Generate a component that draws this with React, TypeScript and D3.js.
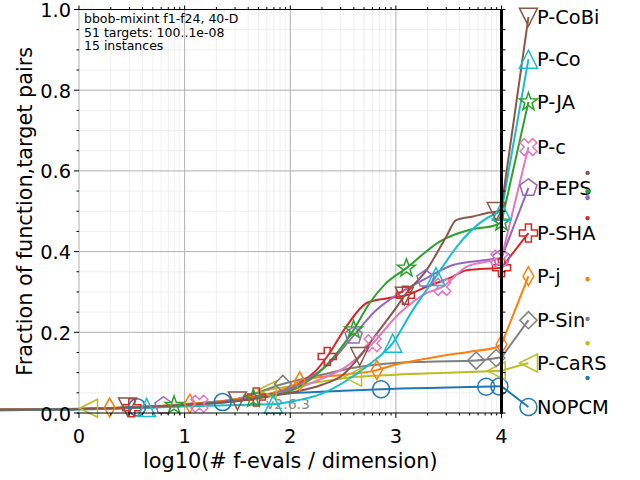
import React from 'react';
import * as d3 from 'd3';

type Pt = [number, number];

// ECDF curves: [log10(evals/dim), fraction]
const pCoBi: Pt[] = [[-0.75, 0.008], [0, 0.01], [1, 0.02], [1.5, 0.03], [2, 0.05], [2.3, 0.07], [2.5, 0.095], [2.657, 0.14], [2.8, 0.19], [3.0, 0.26], [3.1, 0.297], [3.29, 0.354], [3.477, 0.437], [3.57, 0.478], [3.73, 0.487], [3.855, 0.495], [3.965, 0.5], [4, 0.51]];
const pCo: Pt[] = [[-0.75, 0.007], [0, 0.009], [1, 0.016], [1.5, 0.02], [1.85, 0.022], [2, 0.028], [2.3, 0.048], [2.5, 0.075], [2.72, 0.115], [2.97, 0.173], [3.16, 0.255], [3.38, 0.338], [3.6, 0.42], [3.79, 0.47], [3.95, 0.495], [4, 0.5]];
const pJA: Pt[] = [[-0.75, 0.008], [0, 0.01], [1, 0.02], [1.5, 0.03], [1.75, 0.04], [2, 0.055], [2.2, 0.085], [2.4, 0.135], [2.6, 0.206], [2.75, 0.272], [2.9, 0.32], [3.1, 0.359], [3.414, 0.425], [3.7, 0.454], [3.95, 0.466], [4, 0.473]];
const pC: Pt[] = [[-0.75, 0.008], [0, 0.01], [1, 0.02], [1.5, 0.03], [2, 0.055], [2.3, 0.085], [2.53, 0.115], [2.78, 0.173], [3.035, 0.247], [3.29, 0.297], [3.445, 0.313], [3.67, 0.363], [3.855, 0.375], [4, 0.384]];
const pEPS: Pt[] = [[-0.75, 0.008], [0, 0.01], [1, 0.02], [1.5, 0.032], [2, 0.06], [2.2, 0.09], [2.37, 0.123], [2.594, 0.19], [2.815, 0.255], [3.035, 0.297], [3.29, 0.334], [3.54, 0.367], [3.855, 0.379], [4, 0.384]];
const pSHA: Pt[] = [[-0.75, 0.008], [0, 0.01], [0.5, 0.013], [1, 0.02], [1.5, 0.032], [1.8, 0.045], [2, 0.06], [2.15, 0.085], [2.25, 0.107], [2.35, 0.14], [2.53, 0.214], [2.72, 0.272], [2.91, 0.284], [3.1, 0.292], [3.29, 0.313], [3.54, 0.338], [3.67, 0.354], [3.95, 0.359], [4, 0.36]];
const pJ: Pt[] = [[-0.75, 0.008], [0, 0.01], [1, 0.022], [1.5, 0.035], [2, 0.065], [2.1, 0.08], [2.5, 0.095], [2.8, 0.105], [3.0, 0.12], [3.4, 0.14], [3.7, 0.152], [3.95, 0.163], [4, 0.17]];
const pSin: Pt[] = [[-0.75, 0.008], [0, 0.01], [1, 0.022], [1.5, 0.035], [1.93, 0.072], [2.05, 0.08], [2.3, 0.095], [2.6, 0.112], [2.9, 0.122], [3.3, 0.127], [3.76, 0.13], [4, 0.138]];
const pCaRS: Pt[] = [[-0.75, 0.009], [0, 0.011], [0.5, 0.015], [1, 0.022], [1.5, 0.035], [1.78, 0.057], [2, 0.066], [2.3, 0.078], [2.59, 0.089], [3, 0.095], [3.5, 0.1], [4, 0.105]];
const noPCM: Pt[] = [[-0.75, 0.007], [0, 0.009], [1, 0.018], [1.36, 0.027], [1.7, 0.04], [1.9, 0.047], [2, 0.049], [2.5, 0.055], [2.86, 0.059], [3.5, 0.063], [4, 0.066]];

// where markers sit along each curve (log10 x)
const marksCoBi = [0.46, 1.5, 2.657, 3.08, 3.95];
const marksCo = [0.64, 1.84, 2.97, 3.38, 4.0];
const marksJA = [0.9, 1.65, 2.6, 3.1, 4.0];
const marksC = [1.14, 2.78, 3.44, 3.98];
const marksEPS = [0.8, 2.6, 3.28, 4.0];
const marksSHA = [0.5, 1.68, 2.35, 3.09, 4.0];
const marksJ = [0.29, 1.05, 2.09, 2.82, 4.0];
const marksSin = [1.93, 3.76, 3.95];
const marksCaRS = [0.09, 1.78, 2.59, 3.95];
const marksNOPCM = [0.55, 1.36, 2.86, 3.855, 3.98];

const names = ['P-CoBi', 'P-Co', 'P-JA', 'P-c', 'P-EPS', 'P-SHA', 'P-j', 'P-Sin', 'P-CaRS', 'NOPCM'];
const colors = ['#8c564b', '#17becf', '#2ca02c', '#e377c2', '#9467bd', '#d62728', '#ff7f0e', '#7f7f7f', '#bcbd22', '#1f77b4'];
const shapes = ['triDown', 'triUp', 'star', 'xFilled', 'pentagon', 'plusFilled', 'thinDiamond', 'diamond', 'triLeft', 'circle'];
const legendValues = [0.981, 0.877, 0.771, 0.659, 0.558, 0.446, 0.339, 0.23, 0.124, 0.015];
const finalDots = [0.595, 0.55, 0.549, 0.536, 0.533, 0.483, 0.332, 0.233, 0.173, 0.087];
const dotOrder = [0, 1, 2, 3, 4, 5, 6, 7, 8, 9];

const xTicks = [0, 1, 2, 3, 4];
const xTickLabels = ['0', '1', '2', '3', '4'];
const yTicks = [0, 0.2, 0.4, 0.6, 0.8, 1.0];
const yTickLabels = ['0.0', '0.2', '0.4', '0.6', '0.8', '1.0'];
const infoLines = ['bbob-mixint f1-f24, 40-D', '51 targets: 100..1e-08', '15 instances'];

const curves = [pCoBi, pCo, pJA, pC, pEPS, pSHA, pJ, pSin, pCaRS, noPCM];
const marks = [marksCoBi, marksCo, marksJA, marksC, marksEPS, marksSHA, marksJ, marksSin, marksCaRS, marksNOPCM];

const legendLx = 4.255;
const dotLx = 4.815;

const x = d3.scaleLinear().domain([0, 4]).range([79, 501.5]);
const y = d3.scaleLinear().domain([0, 1]).range([413, 9.5]);

const minorX: number[] = [];
for (let d = 0; d < 4; d++) for (let k = 2; k < 10; k++) minorX.push(d + Math.log10(k));
const minorY = d3.range(0.05, 1, 0.05).filter((v) => Math.abs(v * 5 - Math.round(v * 5)) > 1e-6);
const allY = d3.range(0, 1.0001, 0.05);

function poly(pts: Pt[]) {
  return 'M' + pts.map((p) => p.join(',')).join('L') + 'Z';
}

function markerPath(shape: string): string {
  const r = 9;
  switch (shape) {
    case 'triUp':
      return poly([[0, -r], [-r, r], [r, r]]);
    case 'triDown':
      return poly([[0, r], [-r, -r], [r, -r]]);
    case 'triLeft':
      return poly([[-r, 0], [r, -r], [r, r]]);
    case 'diamond':
      return poly([[0, -r * 0.95], [r * 0.95, 0], [0, r * 0.95], [-r * 0.95, 0]]);
    case 'thinDiamond':
      return poly([[0, -r * 1.05], [r * 0.6, 0], [0, r * 1.05], [-r * 0.6, 0]]);
    case 'pentagon': {
      const pts: Pt[] = d3.range(5).map((i) => {
        const a = -Math.PI / 2 + (i * 2 * Math.PI) / 5;
        return [r * Math.cos(a), r * Math.sin(a)];
      });
      return poly(pts);
    }
    case 'star': {
      const pts: Pt[] = d3.range(10).map((i) => {
        const a = -Math.PI / 2 + (i * Math.PI) / 5;
        const rr = i % 2 === 0 ? r * 1.05 : r * 0.42;
        return [rr * Math.cos(a), rr * Math.sin(a)];
      });
      return poly(pts);
    }
    case 'plusFilled':
    case 'xFilled': {
      const t = r / 3;
      let pts: Pt[] = [[-t, -r], [t, -r], [t, -t], [r, -t], [r, t], [t, t], [t, r], [-t, r], [-t, t], [-r, t], [-r, -t], [-t, -t]];
      if (shape === 'xFilled') {
        const c = Math.SQRT1_2;
        pts = pts.map(([a, b]) => [a * c - b * c, a * c + b * c] as Pt);
      }
      return poly(pts);
    }
    default:
      return '';
  }
}

const Marker: React.FC<{ shape: string; cx: number; cy: number; color: string }> = ({ shape, cx, cy, color }) =>
  shape === 'circle' ? (
    <circle cx={cx} cy={cy} r={8.5} fill="none" stroke={color} strokeWidth={1.5} />
  ) : (
    <path d={markerPath(shape)} transform={`translate(${cx},${cy})`} fill="none" stroke={color} strokeWidth={1.5} strokeLinejoin="miter" />
  );

const line = d3
  .line<Pt>()
  .x((d) => x(d[0]))
  .y((d) => y(d[1]))
  .curve(d3.curveMonotoneX);

const font = 'DejaVu Sans, sans-serif';

const App: React.FC = () => {
  const drawOrder = [9, 8, 7, 6, 5, 4, 3, 2, 1, 0];
  return (
    <div style={{ position: 'absolute', left: 0, top: 0 }}>
      <svg width={640} height={480} style={{ display: 'block', fontFamily: font }}>
        <rect width={640} height={480} fill="#fff" />
        {/* minor grid */}
        <g stroke="#ebebeb" strokeWidth={0.8}>
          {minorX.map((v, i) => (
            <line key={'mx' + i} x1={x(v)} x2={x(v)} y1={y(0)} y2={y(1)} />
          ))}
          {minorY.map((v, i) => (
            <line key={'my' + i} x1={x(0)} x2={x(4)} y1={y(v)} y2={y(v)} />
          ))}
        </g>
        {/* major grid */}
        <g stroke="#b0b0b0" strokeWidth={1}>
          {xTicks.map((v) => (
            <line key={'gx' + v} x1={x(v)} x2={x(v)} y1={y(0)} y2={y(1)} />
          ))}
          {yTicks.slice(1, -1).map((v) => (
            <line key={'gy' + v} x1={x(0)} x2={x(4)} y1={y(v)} y2={y(v)} />
          ))}
        </g>
        {/* info text */}
        <g fontSize={12.5} fill="#000">
          {infoLines.map((t, i) => (
            <text key={t} x={84} y={23 + i * 13.5}>
              {t}
            </text>
          ))}
        </g>
        <text x={266} y={409} fontSize={14} fill="#8a8a8a">
          v2.6.3
        </text>
        {/* curves */}
        {drawOrder.map((i) => {
          const data = curves[i];
          const last = data[data.length - 1];
          return (
            <g key={names[i]} stroke={colors[i]} fill="none" strokeWidth={2}>
              <path d={line(data) || ''} strokeLinejoin="round" />
              <line x1={x(last[0])} y1={y(last[1])} x2={x(legendLx)} y2={y(legendValues[i])} />
            </g>
          );
        })}
        {/* markers */}
        {drawOrder.map((i) => {
          const data = curves[i];
          const interp = d3
            .scaleLinear()
            .domain(data.map((d) => d[0]))
            .range(data.map((d) => d[1]));
          return (
            <g key={'m' + names[i]}>
              {marks[i].map((m, j) => (
                <Marker key={j} shape={shapes[i]} cx={x(m)} cy={y(interp(m))} color={colors[i]} />
              ))}
              <Marker shape={shapes[i]} cx={x(legendLx)} cy={y(legendValues[i])} color={colors[i]} />
            </g>
          );
        })}
        {/* spines */}
        <line x1={77} x2={501.5} y1={y(0)} y2={y(0)} stroke="#000" strokeWidth={1.2} />
        <line x1={77} x2={501.5} y1={y(1)} y2={y(1)} stroke="#000" strokeWidth={1.2} />
        <line x1={x(4)} x2={x(4)} y1={y(1)} y2={y(0) + 1} stroke="#000" strokeWidth={3} />
        {/* ticks */}
        <g stroke="#000" strokeWidth={1}>
          {xTicks.map((v) => (
            <g key={'tx' + v}>
              <line x1={x(v)} x2={x(v)} y1={y(0)} y2={y(0) + 5} />
              <line x1={x(v)} x2={x(v)} y1={y(1)} y2={y(1) - 4} />
            </g>
          ))}
          {minorX.map((v, i) => (
            <g key={'tmx' + i}>
              <line x1={x(v)} x2={x(v)} y1={y(0)} y2={y(0) + 2.5} />
              <line x1={x(v)} x2={x(v)} y1={y(1)} y2={y(1) - 2.5} />
            </g>
          ))}
          {yTicks.map((v) => (
            <line key={'ty' + v} x1={x(0) - 5} x2={x(0)} y1={y(v)} y2={y(v)} />
          ))}
          {minorY.map((v, i) => (
            <line key={'tmy' + i} x1={x(0) - 2.5} x2={x(0)} y1={y(v)} y2={y(v)} />
          ))}
          {allY.map((v, i) => (
            <line key={'try' + i} x1={x(4)} x2={x(4) + 4} y1={y(v)} y2={y(v)} />
          ))}
        </g>
        {/* tick labels */}
        <g fontSize={19.4} fill="#000">
          {xTicks.map((v, i) => (
            <text key={'lx' + v} x={x(v)} y={443} textAnchor="middle">
              {xTickLabels[i]}
            </text>
          ))}
          {yTicks.map((v, i) => (
            <text key={'ly' + v} x={71} y={y(v) + 7.5} textAnchor="end">
              {yTickLabels[i]}
            </text>
          ))}
        </g>
        <text x={(x(0) + x(4)) / 2} y={468} fontSize={20.8} textAnchor="middle">
          log10(# f-evals / dimension)
        </text>
        <text
          transform={`translate(32,${(y(0) + y(1)) / 2}) rotate(-90)`}
          fontSize={20.8}
          textAnchor="middle"
        >
          Fraction of function,target pairs
        </text>
        {/* legend labels */}
        <g fontSize={19.4} fill="#000">
          {names.map((n, i) => (
            <text key={'leg' + n} x={537} y={y(legendValues[i]) + 7}>
              {n}
            </text>
          ))}
        </g>
        {/* final fraction dots */}
        {dotOrder.map((i) => (
          <circle key={'dot' + i} cx={x(dotLx)} cy={y(finalDots[i])} r={2.2} fill={colors[i]} />
        ))}
      </svg>
    </div>
  );
};

export default App;
